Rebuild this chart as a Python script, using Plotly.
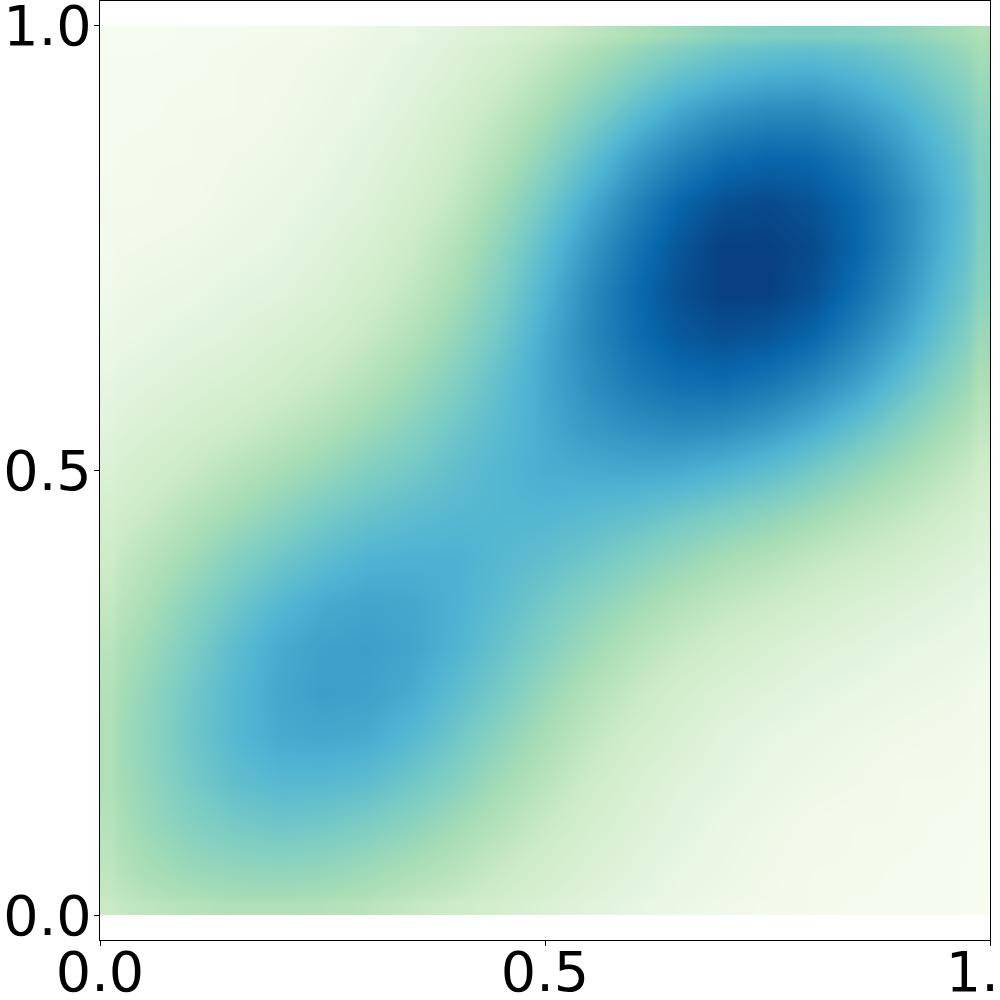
import plotly.graph_objects as go

# density, one row per y from 0 to 1 in steps of 0.05
density = [
    [.26, .30, .33, .35, .35, .34, .32, .28, .24, .20, .16, .12, .09, .06, .04, .03, .02, .01, .01, .01, .00],
    [.30, .37, .41, .43, .44, .43, .40, .36, .32, .26, .21, .16, .12, .08, .06, .04, .02, .02, .01, .01, .00],
    [.33, .41, .47, .51, .53, .52, .49, .45, .39, .33, .26, .20, .15, .11, .07, .05, .03, .02, .02, .01, .01],
    [.35, .43, .51, .57, .60, .60, .58, .53, .47, .39, .32, .24, .18, .13, .10, .07, .05, .04, .02, .02, .01],
    [.35, .44, .53, .60, .65, .66, .65, .60, .53, .45, .37, .29, .22, .17, .12, .09, .07, .05, .04, .03, .02],
    [.34, .43, .52, .60, .66, .69, .68, .65, .58, .51, .42, .34, .27, .21, .16, .13, .10, .08, .06, .05, .03],
    [.32, .40, .49, .58, .65, .68, .69, .67, .62, .55, .48, .40, .33, .27, .22, .18, .14, .12, .09, .07, .06],
    [.28, .36, .45, .53, .60, .65, .67, .66, .63, .58, .52, .46, .40, .34, .29, .25, .21, .17, .14, .11, .08],
    [.24, .32, .39, .47, .53, .58, .62, .63, .63, .60, .57, .53, .48, .43, .38, .34, .29, .25, .21, .16, .13],
    [.20, .26, .33, .39, .45, .51, .55, .58, .60, .61, .61, .59, .57, .53, .49, .45, .40, .34, .29, .23, .17],
    [.16, .21, .26, .32, .37, .42, .48, .52, .57, .61, .64, .65, .66, .65, .62, .58, .52, .45, .38, .31, .23],
    [.12, .16, .20, .24, .29, .34, .40, .46, .53, .59, .65, .71, .74, .76, .75, .71, .65, .57, .48, .39, .30],
    [.09, .12, .15, .18, .22, .27, .33, .40, .48, .57, .66, .74, .81, .85, .86, .83, .77, .69, .58, .47, .36],
    [.06, .08, .11, .13, .17, .21, .27, .34, .43, .53, .65, .76, .85, .92, .95, .93, .88, .78, .67, .54, .41],
    [.04, .06, .07, .10, .12, .16, .22, .29, .38, .49, .62, .75, .86, .95, 1.0, 1.0, .95, .85, .73, .59, .46],
    [.03, .04, .05, .07, .09, .13, .18, .25, .34, .45, .58, .71, .83, .93, 1.0, 1.0, .97, .88, .76, .62, .48],
    [.02, .02, .03, .05, .07, .10, .14, .21, .29, .40, .52, .65, .77, .88, .95, .97, .94, .87, .76, .63, .49],
    [.01, .02, .02, .04, .05, .08, .12, .17, .25, .34, .45, .57, .69, .78, .85, .88, .87, .81, .71, .60, .48],
    [.01, .01, .02, .02, .04, .06, .09, .14, .21, .29, .38, .48, .58, .67, .73, .76, .76, .71, .64, .55, .45],
    [.01, .01, .01, .02, .03, .05, .07, .11, .16, .23, .31, .39, .47, .54, .59, .62, .63, .60, .55, .48, .40],
    [.00, .00, .01, .01, .02, .03, .06, .08, .13, .17, .23, .30, .36, .41, .46, .48, .49, .48, .45, .40, .35],
]
tick_vals = [0, 0.5, 1]
tick_text = ['0.0', '0.5', '1.0']

# cell edges: half width cells at both ends, so the image stops exactly at 0 and 1
n_cells = len(density)
edges = [0] + [(i + 0.5) / (n_cells - 1) for i in range(n_cells - 1)] + [1]

fig = go.Figure(go.Heatmap(z=density, x=edges, y=edges, colorscale='GnBu',
                           zmin=0, zmax=1, zsmooth='best', showscale=False))

axis_style = dict(tickmode='array', tickvals=tick_vals, ticktext=tick_text,
                  showgrid=False, zeroline=False, showline=True, mirror=True, automargin=False,
                  linecolor='black', linewidth=1.3, ticks='outside', ticklen=5,
                  tickwidth=1.3, tickcolor='black', ticklabeloverflow='allow',
                  tickfont=dict(family='DejaVu Sans', size=55.6, color='black'))

fig.update_xaxes(range=[0, 1], ticklabelstandoff=-22, **axis_style)
fig.update_yaxes(range=[-0.028, 1.028], ticklabelstandoff=-9, **axis_style)
fig.update_layout(width=1000, height=1000, paper_bgcolor='white', plot_bgcolor='white',
                  margin=dict(l=100, r=10, t=1, b=60))

fig.write_html("out.html", config={'displayModeBar': False},
               post_script="document.body.style.margin = '0';")
